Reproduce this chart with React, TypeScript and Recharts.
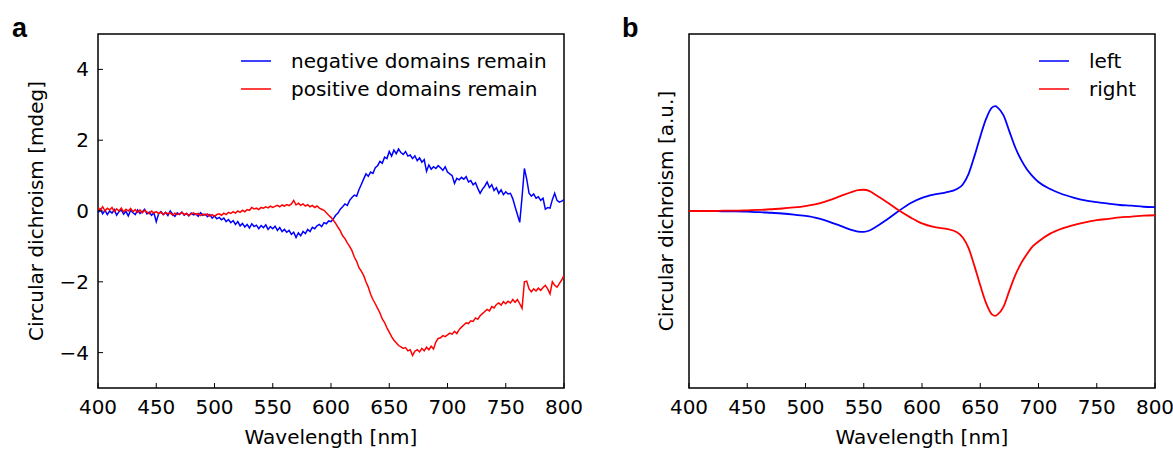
import React from "react";
import {
  Label,
  Line,
  LineChart,
  ReferenceArea,
  XAxis,
  YAxis,
} from "recharts";

// panel a: measured spectra, 2 nm steps from 400 to 800 nm
const aStartNm = 400;
const aStepNm = 2;
const aNegative = [
  -0.05, 0.05, -0.08, 0.02, -0.1, 0.0, -0.06, 0.04, -0.12, -0.02,
  0.03, -0.09, -0.01, -0.14, 0.02, -0.05, -0.1, 0.03, -0.07, -0.02,
  0.05, -0.08, -0.03, -0.12, -0.05, -0.3, -0.08, -0.02, -0.1, -0.04,
  -0.13, 0.0, -0.09, -0.15, -0.05, -0.1, -0.03, -0.12, -0.07, -0.14,
  -0.06, -0.11, -0.08, -0.15, -0.05, -0.12, -0.09, -0.16, -0.1, -0.2,
  -0.14, -0.22, -0.18, -0.25, -0.2, -0.3, -0.24, -0.33, -0.27, -0.38,
  -0.3, -0.42, -0.35, -0.45, -0.38, -0.48, -0.36, -0.44, -0.4, -0.5,
  -0.41, -0.47, -0.39, -0.52, -0.44, -0.5, -0.43, -0.55, -0.47, -0.58,
  -0.52, -0.6, -0.55, -0.66, -0.6, -0.75, -0.62, -0.7, -0.58, -0.64,
  -0.52, -0.58, -0.46, -0.5, -0.42, -0.38, -0.44, -0.33, -0.36, -0.28,
  -0.3, -0.22, -0.12, -0.06, 0.05, 0.12, 0.2, 0.16, 0.3, 0.38,
  0.45, 0.42, 0.6, 0.75, 0.9, 1.05, 0.98, 1.1, 1.06, 1.22,
  1.28, 1.4, 1.35, 1.52, 1.48, 1.68, 1.55, 1.72, 1.62, 1.75,
  1.65, 1.6, 1.68, 1.55, 1.58, 1.48, 1.56, 1.42, 1.5, 1.38,
  1.45, 1.12, 1.3, 1.18, 1.25, 1.2, 1.28, 1.22, 1.15, 1.25,
  1.1, 1.05, 1.0, 0.78, 0.92, 0.88, 0.95, 0.9, 0.97, 0.82,
  0.86, 0.74, 0.8, 0.64, 0.5, 0.62, 0.7, 0.82, 0.66, 0.74,
  0.58, 0.66, 0.5, 0.6, 0.46, 0.54, 0.48, 0.5, 0.35, 0.12,
  -0.1, -0.32, 0.4, 1.2, 0.9, 0.5, 0.42, 0.48, 0.36, 0.4,
  0.3, 0.36, 0.05, 0.1, 0.08, 0.32, 0.5, 0.3, 0.25, 0.28,
  0.32,
];
const aPositive = [
  0.1, 0.02, 0.12, 0.0, 0.08, 0.03, 0.1, -0.02, 0.06, 0.0,
  0.08, -0.03, 0.05, 0.0, 0.07, -0.02, 0.04, -0.04, 0.03, -0.05,
  0.02, -0.03, -0.08, 0.0, -0.06, -0.02, -0.07, -0.03, -0.1, -0.04,
  -0.08, -0.05, -0.12, -0.06, -0.1, -0.08, -0.04, -0.1, -0.07, -0.12,
  -0.08, -0.05, -0.1, -0.07, -0.13, -0.09, -0.12, -0.08, -0.14, -0.1,
  -0.15, -0.1, -0.08, -0.12, -0.06, -0.1, -0.04, -0.07, -0.02, -0.06,
  0.0, -0.04, 0.02, -0.02, 0.04, 0.02, 0.1, 0.06, 0.08, 0.04,
  0.1, 0.08, 0.12, 0.09, 0.14, 0.1, 0.13, 0.16, 0.12, 0.17,
  0.14, 0.18, 0.15, 0.2, 0.3, 0.17, 0.22, 0.16, 0.2, 0.14,
  0.18, 0.12, 0.16, 0.1, 0.14, 0.08, 0.05, 0.02, -0.05, -0.12,
  -0.18, -0.26, -0.35, -0.46, -0.56, -0.7, -0.78, -0.9, -1.0, -1.12,
  -1.3, -1.42, -1.6, -1.7, -1.82, -2.0, -2.15, -2.35, -2.5, -2.62,
  -2.75, -2.88, -3.05, -3.15, -3.3, -3.42, -3.55, -3.65, -3.72, -3.8,
  -3.84, -3.88, -3.86, -3.95, -3.92, -4.08, -3.96, -3.92, -3.98, -3.88,
  -3.95, -3.85, -3.92, -3.82, -3.9, -3.7, -3.6, -3.58, -3.52, -3.55,
  -3.5, -3.45, -3.48, -3.4, -3.46, -3.35, -3.28, -3.22, -3.16, -3.18,
  -3.1, -3.12, -3.02, -3.06, -2.96, -2.9, -2.84, -2.78, -2.82, -2.7,
  -2.74, -2.64, -2.6, -2.66, -2.56, -2.62, -2.55, -2.6, -2.5, -2.58,
  -2.5, -2.62, -2.75, -2.0, -1.98, -2.2, -2.28, -2.2, -2.26, -2.18,
  -2.24, -2.16, -2.1, -2.2, -2.34, -2.0, -2.1, -2.15, -2.05, -1.95,
  -1.82,
];

// panel b: simulated spectra (arbitrary units)
const bWavelength = [
  400, 410, 420, 430, 440, 450, 460, 470, 480, 490,
  500, 510, 520, 530, 540, 545, 550, 555, 560, 570,
  580, 590, 600, 610, 620, 630, 635, 640, 645, 650,
  655, 660, 663, 665, 670, 675, 680, 685, 690, 695,
  700, 710, 720, 730, 740, 750, 760, 770, 780, 790, 800,
];
const bLeft = [
  0, 0, 0, -0.01, -0.01, -0.02, -0.03, -0.05, -0.07, -0.1,
  -0.14, -0.2, -0.3, -0.42, -0.54, -0.58, -0.59, -0.55, -0.46, -0.24,
  0.0, 0.22, 0.37, 0.46, 0.52, 0.62, 0.75, 1.05, 1.55, 2.1,
  2.6, 2.92, 2.96, 2.92, 2.7, 2.25, 1.8, 1.45, 1.18, 0.98,
  0.82, 0.62, 0.48, 0.38, 0.3, 0.25, 0.21, 0.17, 0.15, 0.12, 0.11,
];
const bRight = [
  0, 0, 0, 0.01, 0.01, 0.02, 0.03, 0.05, 0.07, 0.1,
  0.14, 0.2, 0.3, 0.42, 0.54, 0.59, 0.6, 0.56, 0.46, 0.25,
  0.02, -0.18, -0.35, -0.45, -0.5, -0.6, -0.75, -1.05, -1.55, -2.1,
  -2.6, -2.92, -2.96, -2.92, -2.7, -2.25, -1.82, -1.48, -1.22, -1.0,
  -0.86, -0.64, -0.5, -0.4, -0.32, -0.26, -0.22, -0.18, -0.16, -0.13, -0.12,
];

const xTicks = [400, 450, 500, 550, 600, 650, 700, 750, 800];
const yTicksA = [-4, -2, 0, 2, 4];

const FONT = "'DejaVu Sans', sans-serif";
const FS = 20;
const BLUE = "#0000ff";
const RED = "#ff0000";

const aData = aNegative.map((v, i) => ({
  nm: aStartNm + i * aStepNm,
  neg: v,
  pos: aPositive[i],
}));
const bData = bWavelength.map((nm, i) => ({ nm, left: bLeft[i], right: bRight[i] }));

// matplotlib-style inward ticks
const XTick = (props: any) => {
  const { x, y, payload } = props;
  return (
    <g>
      <line x1={x} y1={y} x2={x} y2={y - 5} stroke="#000" strokeWidth={1} />
      <text x={x} y={y + 19} dy="0.35em" textAnchor="middle" fontSize={FS} fontFamily={FONT} fill="#000">
        {payload.value}
      </text>
    </g>
  );
};

const YTick = (props: any) => {
  const { x, y, payload } = props;
  const v = payload.value;
  return (
    <g>
      <line x1={x} y1={y} x2={x + 5} y2={y} stroke="#000" strokeWidth={1} />
      <text x={x - 9} y={y} dy="0.35em" textAnchor="end" fontSize={FS} fontFamily={FONT} fill="#000">
        {v < 0 ? `\u2212${Math.abs(v)}` : v}
      </text>
    </g>
  );
};

type Series = { key: string; label: string; color: string; width: number; type: "linear" | "monotone" };

function LegendBox({ items, left }: { items: Series[]; left: number }) {
  return (
    <div style={{ position: "absolute", left, top: 47, fontFamily: FONT, fontSize: FS, whiteSpace: "nowrap" }}>
      {items.map(it => (
        <div key={it.key} style={{ display: "flex", alignItems: "center", height: 28 }}>
          <svg width={50} height={28} style={{ display: "block" }}>
            <line x1={0} y1={14} x2={30} y2={14} stroke={it.color} strokeWidth={1.5} />
          </svg>
          <span>{it.label}</span>
        </div>
      ))}
    </div>
  );
}

type PanelProps = {
  letter: string;
  width: number;
  yAxisWidth: number;
  yLabel: string;
  yLabelOffset: number;
  showYTicks: boolean;
  data: any[];
  series: Series[];
  legendLeft: number;
};

function Panel(p: PanelProps) {
  return (
    <div style={{ position: "relative", width: p.width, height: 449 }}>
      <div
        style={{
          position: "absolute",
          left: p.letter === "a" ? 12 : 22,
          top: 15,
          fontFamily: "'Liberation Sans', Arial, sans-serif",
          fontWeight: "bold",
          fontSize: 27,
          lineHeight: "27px",
        }}
      >
        {p.letter}
      </div>
      <LineChart
        width={p.width}
        height={449}
        data={p.data}
        margin={{ top: 34, right: p.width - p.yAxisWidth - 466, bottom: 0, left: 0 }}
      >
        <XAxis
          dataKey="nm"
          type="number"
          domain={[400, 800]}
          ticks={xTicks}
          allowDataOverflow
          height={61}
          axisLine={false}
          tickLine={false}
          tickSize={0}
          tickMargin={0}
          tick={<XTick />}
        >
          <Label
            value="Wavelength [nm]"
            position="insideBottom"
            offset={5}
            style={{ fontFamily: FONT, fontSize: FS, fill: "#000" }}
          />
        </XAxis>
        <YAxis
          type="number"
          domain={[-5, 5]}
          ticks={p.showYTicks ? yTicksA : []}
          allowDataOverflow
          width={p.yAxisWidth}
          axisLine={false}
          tickLine={false}
          tickSize={0}
          tickMargin={0}
          tick={p.showYTicks ? <YTick /> : false}
        >
          <Label
            value={p.yLabel}
            angle={-90}
            position="insideLeft"
            offset={p.yLabelOffset}
            style={{ fontFamily: FONT, fontSize: FS, fill: "#000", textAnchor: "middle" }}
          />
        </YAxis>
        {p.series.map(s => (
          <Line
            key={s.key}
            dataKey={s.key}
            name={s.label}
            type={s.type}
            stroke={s.color}
            strokeWidth={s.width}
            dot={false}
            activeDot={false}
            isAnimationActive={false}
          />
        ))}
        <ReferenceArea
          x1={400}
          x2={800}
          y1={-5}
          y2={5}
          fill="none"
          fillOpacity={0}
          stroke="#000"
          strokeWidth={1.5}
          ifOverflow="visible"
        />
      </LineChart>
      <LegendBox items={p.series} left={p.legendLeft} />
    </div>
  );
}

export default function App() {
  return (
    <div style={{ position: "absolute", left: 0, top: 0, width: 1173, height: 449, background: "#fff", display: "flex" }}>
      <Panel
        letter="a"
        width={600}
        yAxisWidth={98}
        yLabel="Circular dichroism [mdeg]"
        yLabelOffset={36}
        showYTicks
        data={aData}
        legendLeft={241}
        series={[
          { key: "neg", label: "negative domains remain", color: BLUE, width: 1.5, type: "linear" },
          { key: "pos", label: "positive domains remain", color: RED, width: 1.5, type: "linear" },
        ]}
      />
      <Panel
        letter="b"
        width={573}
        yAxisWidth={89}
        yLabel="Circular dichroism [a.u.]"
        yLabelOffset={66}
        showYTicks={false}
        data={bData}
        legendLeft={439}
        series={[
          { key: "left", label: "left", color: BLUE, width: 1.8, type: "monotone" },
          { key: "right", label: "right", color: RED, width: 1.8, type: "monotone" },
        ]}
      />
    </div>
  );
}
